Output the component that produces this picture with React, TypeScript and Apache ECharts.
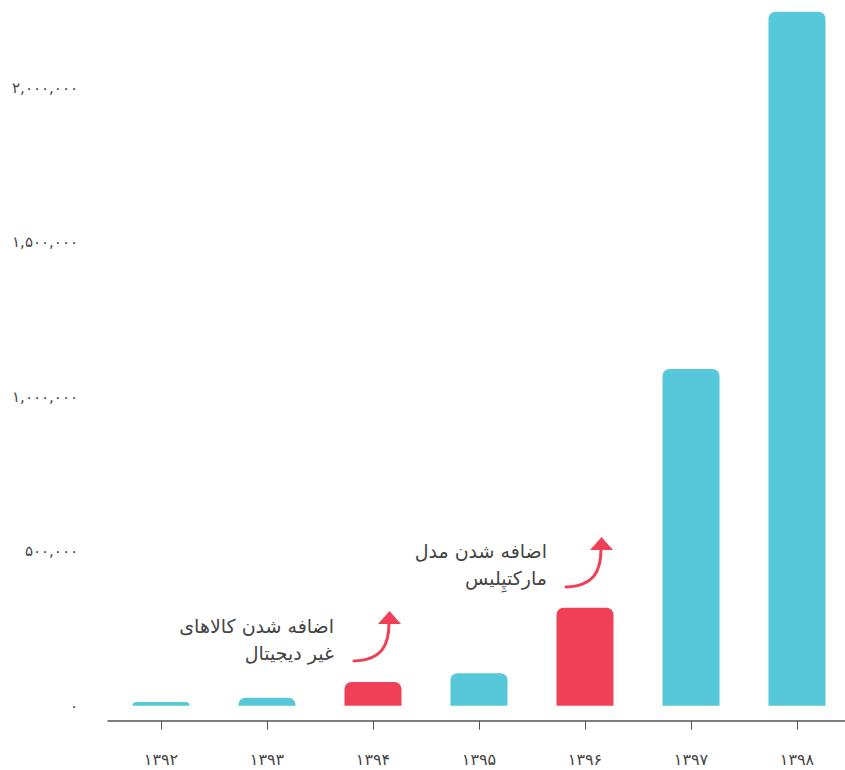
import React, { useEffect, useRef } from "react";
import * as echarts from "echarts";

const years = ["۱۳۹۲", "۱۳۹۳", "۱۳۹۴", "۱۳۹۵", "۱۳۹۶", "۱۳۹۷", "۱۳۹۸"];
const values = [12000, 26000, 77000, 105000, 317000, 1090000, 2246000];
const highlighted = [false, false, true, false, true, false, false];
const yTicks = [0, 500000, 1000000, 1500000, 2000000];
const note1 = ["اضافه شدن کالاهای", "غیر دیجیتال"];
const note2 = ["اضافه شدن مدل", "مارکتپِلیس"];

const TEAL = "#57C7DA";
const RED = "#F04057";
const TEXT = "#444444";
const FONT = "DejaVu Sans";

const toFa = (s: string) => s.replace(/[0-9]/g, (d) => "۰۱۲۳۴۵۶۷۸۹"[+d]);
const fmt = (v: number) => toFa(String(v).replace(/\B(?=(\d{3})+(?!\d))/g, ","));

function arrow(x0: number, y0: number) {
  return [
    {
      type: "bezierCurve",
      shape: {
        x1: x0, y1: y0,
        cpx1: x0 + 28, cpy1: y0 - 1,
        cpx2: x0 + 35, cpy2: y0 - 16,
        x2: x0 + 35, y2: y0 - 38,
      },
      style: { stroke: RED, lineWidth: 3, fill: null, lineCap: "round" },
    },
    {
      type: "polygon",
      shape: {
        points: [
          [x0 + 24, y0 - 37],
          [x0 + 47, y0 - 37],
          [x0 + 35.5, y0 - 50],
        ],
      },
      style: { fill: RED },
    },
  ];
}

function note(lines: string[], right: number, y: number) {
  return {
    type: "text",
    x: right,
    y: y,
    style: {
      text: lines.join("\n"),
      font: `19px '${FONT}'`,
      fill: TEXT,
      align: "right",
      verticalAlign: "top",
      lineHeight: 27,
    },
  };
}

export default function App() {
  const ref = useRef<HTMLDivElement>(null);
  useEffect(() => {
    if (!ref.current) return;
    const chart = echarts.init(ref.current, null, { renderer: "svg" });
    chart.setOption({
      animation: false,
      grid: { left: 108, right: 0, top: 10.5, bottom: 64.3 },
      xAxis: {
        type: "category",
        data: years,
        offset: 15,
        axisLine: { show: true, onZero: false, lineStyle: { color: "#555", width: 1.5 } },
        axisTick: { show: true, alignWithLabel: true, length: 9, lineStyle: { color: "#555", width: 1 } },
        axisLabel: { color: TEXT, fontSize: 16, fontFamily: FONT, margin: 31 },
      },
      yAxis: {
        type: "value",
        min: 0,
        max: 2250000,
        interval: 500000,
        splitLine: { show: false },
        axisLine: { show: false },
        axisTick: { show: false },
        axisLabel: {
          color: TEXT,
          fontSize: 15,
          fontFamily: FONT,
          margin: 30,
          formatter: (v: number) => (yTicks.includes(v) ? fmt(v) : ""),
        },
      },
      series: [
        {
          type: "bar",
          barWidth: 57,
          data: values.map((v, i) => ({
            value: v,
            itemStyle: { color: highlighted[i] ? RED : TEAL },
          })),
          itemStyle: { borderRadius: [7, 7, 0, 0] },
        },
      ],
      graphic: [
        note(note1, 334, 612),
        ...arrow(354, 661),
        note(note2, 547, 537),
        ...arrow(566, 587),
      ],
    });
    return () => chart.dispose();
  }, []);
  return (
    <div style={{ position: "fixed", left: 0, top: 0, width: 845, height: 770, overflow: "hidden", background: "#fff" }}>
      <div ref={ref} style={{ width: 850, height: 770 }} />
    </div>
  );
}
